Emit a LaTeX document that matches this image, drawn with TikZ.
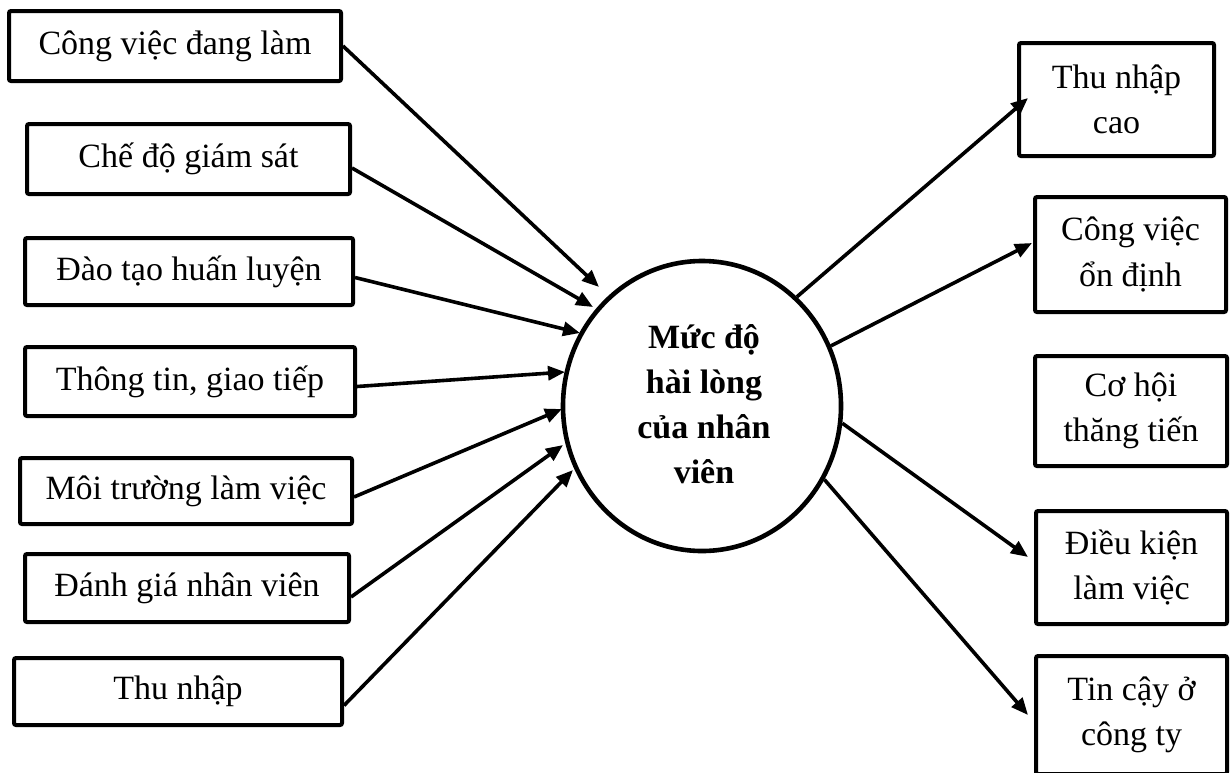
\documentclass[tikz,border=0pt]{standalone}
\usepackage{fontspec}
\setmainfont{Liberation Serif}
\usetikzlibrary{arrows.meta,shapes.geometric}

\tikzset{
  lbox/.style={draw, line width=2pt, rounded corners=1pt, inner sep=0pt,
    font=\fontsize{17}{22.6}\selectfont, align=center},
  hub/.style={draw, ellipse, line width=2.3pt, inner sep=0pt,
    minimum width=139pt, minimum height=145pt},
  arr/.style={line width=1.8pt, -{Triangle[length=8.5pt,width=7pt]}}
}

\begin{document}
\begin{tikzpicture}[x=0.5pt,y=-0.5pt]
\useasboundingbox (0,0) rectangle (1230,772);

% central ellipse
\node[hub] (m) at (702,406) {};
\node[font=\bfseries\fontsize{17}{22.6}\selectfont, align=center] (mt) at (704,404)
  {Mức độ\\hài lòng\\của nhân\\viên};

% factors on the left
\node[lbox, minimum width=166pt, minimum height=35pt] (b1) at (175,46) {Công việc đang làm};
\node[lbox, minimum width=161.5pt, minimum height=35pt] (b2) at (188.5,159) {Chế độ giám sát};
\node[lbox, minimum width=164pt, minimum height=33.5pt] (b3) at (189,271.5) {Đào tạo huấn luyện};
\node[lbox, minimum width=165pt, minimum height=34.5pt] (b4) at (190,381.5) {Thông tin, giao tiếp};
\node[lbox, minimum width=166pt, minimum height=33pt] (b5) at (186,491) {Môi trường làm việc};
\node[lbox, minimum width=162pt, minimum height=34pt] (b6) at (187,588) {Đánh giá nhân viên};
\node[lbox, minimum width=164pt, minimum height=33.5pt] (b7) at (178,691.5) {Thu nhập};

% outcomes on the right
\node[lbox, minimum width=97.5pt, minimum height=56.5pt] (r1) at (1116.5,99.5) {Thu nhập\\cao};
\node[lbox, minimum width=95.5pt, minimum height=57.5pt] (r2) at (1130.5,254.5) {Công việc\\ổn định};
\node[lbox, minimum width=96pt, minimum height=55pt] (r3) at (1131,411) {Cơ hội\\thăng tiến};
\node[lbox, minimum width=95.5pt, minimum height=56.5pt] (r4) at (1131.5,567.5) {Điều kiện\\làm việc};
\node[lbox, minimum width=95.5pt, minimum height=59pt] (r5) at (1131.5,715) {Tin cậy ở\\công ty};

% arrow tips near the ellipse
\coordinate (t1) at (599,287);
\coordinate (t2) at (593,307);
\coordinate (t3) at (580,333);
\coordinate (t4) at (565,372);
\coordinate (t5) at (562,409);
\coordinate (t6) at (563,445);
\coordinate (t7) at (573,470);

\draw[arr] (b1.east) -- (t1);
\draw[arr] ([yshift=-4.5pt]b2.east) -- (t2);
\draw[arr] ([yshift=-3pt]b3.east) -- (t3);
\draw[arr] ([yshift=-2.5pt]b4.east) -- (t4);
\draw[arr] ([yshift=-3pt]b5.east) -- (t5);
\draw[arr] ([yshift=-4.5pt]b6.east) -- (t6);
\draw[arr] ([yshift=-7pt]b7.east) -- (t7);

% arrow tips at the outcome boxes
\coordinate (u1) at (1028,98);
\coordinate (u2) at (1032,243);
\coordinate (u4) at (1028,557);
\coordinate (u5) at (1028,715);

\draw[arr] (m.49) -- (u1);
\draw[arr] (m.25) -- (u2);
\draw[arr] (m.-7) -- (u4);
\draw[arr] (m.-31) -- (u5);
\end{tikzpicture}
\end{document}
